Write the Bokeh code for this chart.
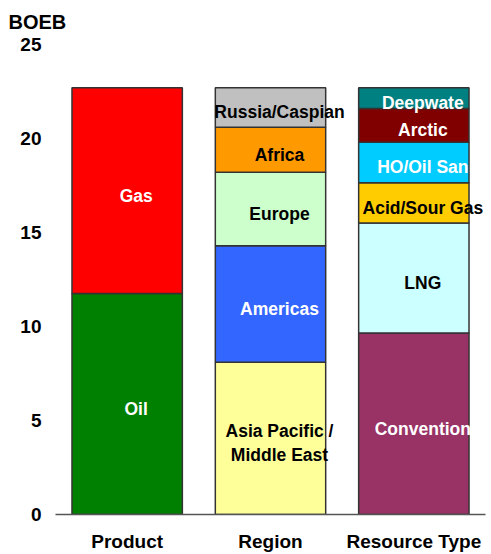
from bokeh.plotting import figure
from bokeh.models import ColumnDataSource, FactorRange, Range1d, FixedTicker, Title
from bokeh.embed import file_html
from bokeh.resources import INLINE

categories = ["Product", "Region", "Resource Type"]

product_labels = ["Oil", "Gas"]
product_values = [11.75, 10.95]

region_labels = ["Asia Pacific /\nMiddle East", "Americas", "Europe", "Africa", "Russia/Caspian"]
region_values = [8.1, 6.2, 3.9, 2.4, 2.1]

resource_labels = ["Convention", "LNG", "Acid/Sour Gas", "HO/Oil San", "Arctic", "Deepwate"]
resource_values = [9.65, 5.85, 2.15, 2.15, 1.8, 1.1]

y_ticks = [0, 5, 10, 15, 20, 25]
unit_label = "BOEB"

colors = {
    "Oil": "#008000", "Gas": "#FF0000",
    "Asia Pacific /\nMiddle East": "#FFFF99", "Americas": "#3366FF", "Europe": "#CCFFCC",
    "Africa": "#FF9900", "Russia/Caspian": "#C0C0C0",
    "Convention": "#993366", "LNG": "#CCFFFF", "Acid/Sour Gas": "#FFCC00",
    "HO/Oil San": "#00CCFF", "Arctic": "#800000", "Deepwate": "#008080",
}
white_text = {"Oil", "Gas", "Americas", "Convention", "HO/Oil San", "Arctic", "Deepwate"}

xs, bottoms, tops, labs, mids, fills, tcols = [], [], [], [], [], [], []
for cat, labels, values in zip(categories,
                               [product_labels, region_labels, resource_labels],
                               [product_values, region_values, resource_values]):
    cum = 0.0
    for lab, v in zip(labels, values):
        xs.append(cat)
        bottoms.append(cum)
        tops.append(cum + v)
        mids.append(cum + v / 2)
        labs.append(lab)
        fills.append(colors[lab])
        tcols.append("white" if lab in white_text else "black")
        cum += v

src = ColumnDataSource(dict(x=xs, bottom=bottoms, top=tops, mid=mids, label=labs,
                            fill=fills, tcol=tcols))

p = figure(width=491, height=554, x_range=FactorRange(*categories), y_range=Range1d(0, 25),
           output_backend="svg", toolbar_location=None,
           min_border_left=55, min_border_right=6, min_border_top=43, min_border_bottom=39)
p.outline_line_color = None
p.xgrid.grid_line_color = None
p.ygrid.grid_line_color = None
p.background_fill_color = "white"
p.border_fill_color = "white"

p.vbar(x="x", bottom="bottom", top="top", width=0.77, source=src,
       fill_color="fill", line_color="#333333", line_width=1.5)

p.text(x="x", y="mid", text="label", source=src, text_color="tcol",
       text_align="center", text_baseline="middle", x_offset=9, y_offset=5,
       text_font={"value": "Liberation Sans"}, text_font_style="bold",
       text_font_size="17.5px", text_line_height=1.2)

p.yaxis.ticker = FixedTicker(ticks=y_ticks)
p.yaxis.axis_line_color = None
p.yaxis.major_tick_line_color = None
p.yaxis.minor_tick_line_color = None
p.yaxis.major_label_text_font = "Liberation Sans"
p.yaxis.major_label_text_font_style = "bold"
p.yaxis.major_label_text_font_size = "19px"
p.yaxis.major_label_text_color = "black"
p.yaxis.major_label_standoff = 8

p.xaxis.axis_line_color = "#555555"
p.xaxis.axis_line_width = 1.5
p.xaxis.major_tick_line_color = None
p.xaxis.minor_tick_line_color = None
p.xaxis.major_label_text_font = "Liberation Sans"
p.xaxis.major_label_text_font_style = "bold"
p.xaxis.major_label_text_font_size = "19px"
p.xaxis.major_label_text_color = "black"
p.xaxis.major_label_standoff = 10

p.add_layout(Title(text=unit_label, align="left", offset=-47, vertical_align="top",
                   text_font="Liberation Sans", text_color="black", text_font_style="bold",
                   text_font_size="20px", standoff=20), "above")

open("out.html", "w").write(file_html(p, INLINE))
